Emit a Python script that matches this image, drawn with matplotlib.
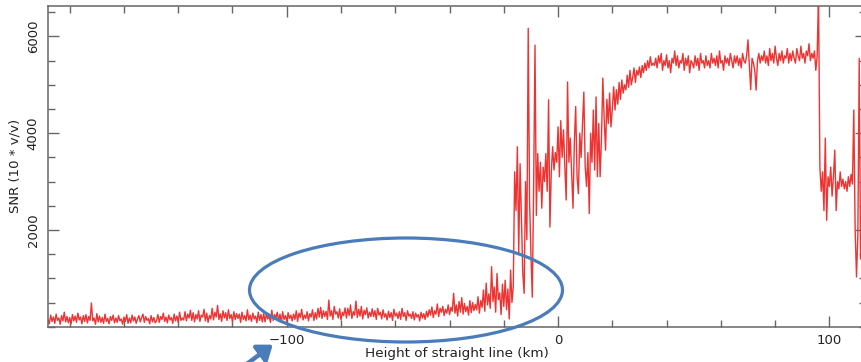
import numpy as np
import matplotlib
matplotlib.use('Agg')
import matplotlib.pyplot as plt
from matplotlib.patches import Ellipse
from matplotlib.ticker import MultipleLocator

# Tramos de la señal: inicio (km), paso (km) y valores de SNR
inicio_a, paso_a = -188, 0.5
snr_a = [150, 60, 240, 110, 200, 70, 260, 130, 180, 50, 230, 120, 300, 100, 210, 80, 190, 60, 250, 120,
         220, 90, 280, 140, 200, 60, 230, 110, 250, 80, 210, 130, 490, 120, 180, 50, 270, 100, 220, 90,
         190, 70, 260, 110, 170, 60, 210, 130, 240, 80, 180, 90, 230, 120, 160, 50, 200, 110, 250, 70,
         180, 80, 240, 120, 200, 70, 160, 230, 100, 190, 260, 90, 210, 130, 170, 60, 230, 100, 190, 80,
         120, 250, 90, 210, 150, 280, 110, 200, 80, 240, 140, 190, 70, 260, 120, 220, 90, 300, 130, 180,
         140, 310, 120, 260, 180, 340, 130, 290, 100, 250, 160, 330, 110, 240, 200, 360, 120, 280, 90, 230,
         160, 380, 140, 300, 200, 440, 150, 270, 110, 330, 180, 290, 130, 350, 170, 250, 100, 310, 150, 270,
         170, 260, 90, 300, 150, 230, 120, 350, 140, 240, 110, 280, 160, 220, 80, 300, 130, 250, 100, 270,
         100, 280, 160, 220, 90, 340, 130, 250, 180, 300, 120, 260, 90, 310, 150, 230, 110, 290, 170, 240,
         120, 260, 150, 330, 110, 280, 190, 360, 140, 240, 170, 310, 120, 270, 200, 350, 130, 290, 160, 380,
         200, 400, 170, 330, 210, 320, 150, 550, 220, 330, 150, 420, 260, 310, 180, 370, 140, 300, 230, 390,
         180, 380, 230, 450, 170, 310, 240, 530, 190, 360, 220, 420, 160, 340, 250, 390, 180, 300, 210, 370,
         210, 330, 150, 380, 240, 300, 160, 350, 200, 270, 140, 320, 190, 290, 130, 360, 220, 280, 170, 310,
         150, 380, 210, 290, 130, 330, 220, 260, 170, 310, 140, 280, 200, 250, 120, 300, 180, 270, 150, 320,
         200, 350, 240, 410, 190, 330, 260, 470, 210, 380, 300, 420, 230, 360, 280, 450, 250, 400, 320, 690,
         280, 450, 220, 520, 300, 600, 260, 480, 310, 420, 240, 540, 290, 500, 330, 460]

inicio_b, paso_b = -30, 0.5
snr_b = [350, 620, 280, 540, 400, 760, 320, 900, 450, 680,
         380, 1240, 520, 820, 300, 1100, 560, 700, 250, 880,
         420, 960, 350, 780, 160, 1170, 500, 840, 3200, 2400,
         3720, 1510, 3370, 2200, 1100, 690, 3000, 1800, 6170, 2600,
         1500, 610, 2900, 5820, 2300, 3580, 2800, 3400, 2450, 3300,
         3000, 3580, 2800, 4690, 2060, 3200, 3720, 3240, 3600, 3400,
         4130, 3100, 4260, 3500, 4070, 3300, 2620, 5060, 3400, 3900,
         3200, 2450, 3800, 4550, 3100, 2750, 4000, 3500, 4200, 4850,
         3300, 2900, 3600, 2340, 4000, 3400, 4480, 3240, 4750, 3100,
         4200, 3100, 3900, 5140, 4300, 3650, 4700, 4200, 4830, 4130,
         4500, 4960, 4480, 4900, 4600, 5050, 4700, 5100, 4830, 5000,
         4900, 5200, 4950, 5300, 5000, 5150, 5350, 5050, 5300, 5200,
         5370, 5150, 5400, 5250, 5450, 5300, 5500, 5350, 5580, 5400,
         5450]

inicio_c, paso_c = 35.5, 0.5
snr_c = [5400, 5550, 5350, 5600, 5450, 5650, 5300, 5500, 5400, 5620, 5350, 5500, 5250, 5550, 5450, 5700, 5400, 5600, 5350, 5500,
         5450, 5650, 5300, 5550, 5400, 5600, 5250, 5500, 5450, 5350, 5600, 5400, 5550, 5300, 5650, 5450, 5500, 5350, 5600, 5400,
         5500, 5350, 5650, 5450, 5550, 5400, 5600, 5350, 5700, 5450, 5500, 5300, 5600, 5450, 5550, 5400, 5650, 5500, 5350, 5600,
         5450, 5600, 5400, 5550, 5350, 5650, 5500, 5450, 5600, 5930, 5400, 4900, 5550, 5450, 5300, 4890, 5500, 5650, 5450, 5600,
         5500, 5700, 5450, 5600, 5400, 5750, 5500, 5650, 5450, 5800, 5550, 5400, 5650, 5500, 5700, 5450, 5600, 5550, 5750, 5450,
         5650, 5500, 5700, 5550, 5450, 5750, 5600, 5500, 5800, 5550, 5650, 5450, 5700, 5600, 5850, 5500, 5650, 5550, 5700, 5300]

inicio_d, paso_d = 95.5, 0.5
snr_d = [5600, 6900, 3300, 2800, 3200, 2400, 3900, 2200, 3100, 2900,
         3300, 2700, 3100, 3650, 2400, 3000, 2850, 3200, 2900, 3050,
         2850, 3000, 2800, 3100, 2900, 3150, 2950, 4480, 2000, 1030,
         1900, 5550, 1400, 1800]

tramos = [(inicio_a, paso_a, snr_a), (inicio_b, paso_b, snr_b),
          (inicio_c, paso_c, snr_c), (inicio_d, paso_d, snr_d)]
x = np.concatenate([ini + paso * np.arange(len(v)) for ini, paso, v in tramos])
y = np.concatenate([np.array(v, dtype=float) for _, _, v in tramos])

fig = plt.figure(figsize=(8.61, 3.62), dpi=100)
ax = fig.add_axes([48 / 861, 35.3 / 362, 818 / 861, 320.7 / 362])

ax.plot(x, y, color='#ee3333', linewidth=1.0)

ax.set_xlim(-188, 113.5)
ax.set_ylim(0, 6630)
ax.xaxis.set_major_locator(MultipleLocator(100))
ax.xaxis.set_minor_locator(MultipleLocator(20))
ax.yaxis.set_minor_locator(MultipleLocator(500))
ax.set_yticks([2000, 4000, 6000])

gris = '#666666'
for lado in ax.spines.values():
    lado.set_color(gris)
    lado.set_linewidth(1.1)
ax.tick_params(which='both', direction='in', top=True, right=True, colors=gris,
               labelcolor='#222222', labelsize=9.5, width=1.0)
ax.tick_params(which='major', length=8)
ax.tick_params(which='minor', length=5)
ax.tick_params(axis='x', pad=5)
ax.tick_params(axis='y', pad=6)
for t in ax.get_yticklabels():
    t.set_rotation(90)
    t.set_va('center')

ax.set_xlabel('Height of straight line (km)', fontsize=9.7, color='#222222', labelpad=0)
ax.set_ylabel('SNR (10 * v/v)', fontsize=9.5, color='#222222', labelpad=4)

# Anotación: elipse y flecha en píxeles de la figura
azul = '#4a7cba'
elipse = Ellipse((406, 362 - 290), 313, 104, transform=None, fill=False,
                 edgecolor=azul, linewidth=2.3, zorder=5)
fig.patches.append(elipse)
ax.annotate('', xy=(275, 362 - 343), xytext=(228, 362 - 378), xycoords='figure pixels',
            textcoords='figure pixels', annotation_clip=False,
            arrowprops=dict(arrowstyle='-|>,head_length=0.6,head_width=0.45',
                            color=azul, linewidth=3.2, mutation_scale=14))

fig.savefig('out.png', dpi=100)
